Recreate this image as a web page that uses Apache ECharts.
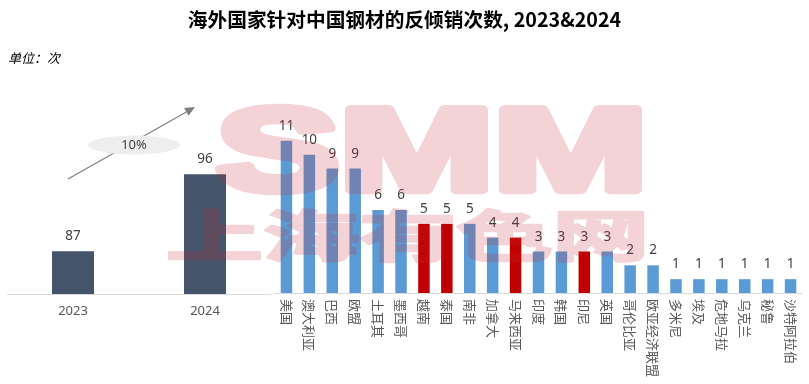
<!DOCTYPE html>
<html>
<head>
<meta charset="utf-8">
<script src="https://cdn.jsdelivr.net/npm/echarts@6/dist/echarts.min.js"></script>
<style>
html,body{margin:0;padding:0;background:#fff;}
#main{width:809px;height:384px;}
</style>
</head>
<body>
<div id="main"></div>
<script>
// ---- data ----
var years = ['2023', '2024'];
var totals = [87, 96];
var countries = ['美国','澳大利亚','巴西','欧盟','土耳其','墨西哥','越南','泰国','南非','加拿大','马来西亚','印度','韩国','印尼','英国','哥伦比亚','欧亚经济联盟','多米尼','埃及','危地马拉','乌克兰','秘鲁','沙特阿拉伯'];
var counts = [11,10,9,9,6,6,5,5,5,4,4,3,3,3,3,2,2,1,1,1,1,1,1];
var highlighted = ['越南','泰国','马来西亚','印尼'];
var growthLabel = '10%';

var chart = echarts.init(document.getElementById('main'), null, {renderer:'canvas'});
var cjk = '"Noto Sans CJK SC", "Noto Sans", sans-serif';
var num = '"Noto Sans", "Noto Sans CJK SC", sans-serif';

var countryData = countries.map(function(c, i){
  return {value: counts[i], itemStyle:{color: highlighted.indexOf(c) >= 0 ? '#c00000' : '#5b9bd5'}};
});

// arrow annotation geometry
var ax1 = 68, ay1 = 179, ax2 = 195, ay2 = 107;
var ang = Math.atan2(ay2 - ay1, ax2 - ax1);
var hl = 10, hw = 4.5;
var bx = ax2 - hl * Math.cos(ang), by = ay2 - hl * Math.sin(ang);
var head = [[ax2, ay2],[bx + hw*Math.sin(ang), by - hw*Math.cos(ang)],[bx - hw*Math.sin(ang), by + hw*Math.cos(ang)]];

// watermark drawn on an offscreen canvas, then composited with uniform alpha
function drawFitted(ctx, text, font, box, strokeW) {
  ctx.save();
  ctx.font = font;
  var m = ctx.measureText(text);
  var inkW = m.actualBoundingBoxLeft + m.actualBoundingBoxRight + strokeW;
  var inkH = m.actualBoundingBoxAscent + m.actualBoundingBoxDescent + strokeW;
  var sx = (box[2] - box[0]) / inkW, sy = (box[3] - box[1]) / inkH;
  ctx.translate(box[0], box[1]);
  ctx.scale(sx, sy);
  var x0 = m.actualBoundingBoxLeft + strokeW / 2;
  var y0 = m.actualBoundingBoxAscent + strokeW / 2;
  ctx.textBaseline = 'alphabetic';
  ctx.fillText(text, x0, y0);
  if (strokeW > 0) { ctx.lineWidth = strokeW; ctx.lineJoin = 'round'; ctx.strokeText(text, x0, y0); }
  ctx.restore();
}
var wmCanvas = document.createElement('canvas');
wmCanvas.width = 809; wmCanvas.height = 384;
(function(){
  var ctx = wmCanvas.getContext('2d');
  ctx.fillStyle = 'rgb(200,40,50)';
  ctx.strokeStyle = 'rgb(200,40,50)';
  drawFitted(ctx, 'SMM', 'bold 120px "Liberation Sans", Arial, sans-serif', [214, 103, 642, 195], 9);
  drawFitted(ctx, '上海有色网', 'bold 60px "Noto Sans CJK SC", sans-serif', [167, 207, 645, 263], 3);
})();

chart.setOption({
  animation:false,
  backgroundColor:'#ffffff',
  title:{
    text:'海外国家针对中国钢材的反倾销次数, 2023&2024',
    left:'center', top:5,
    textStyle:{fontSize:19.7, fontWeight:'bold', color:'#000', fontFamily:cjk}
  },
  grid:[
    {left:7, width:264, top:123, height:171},
    {left:275, width:527, top:127, height:166}
  ],
  xAxis:[
    {type:'category', gridIndex:0, data:years,
     axisLine:{lineStyle:{color:'#d9d9d9', width:1}}, axisTick:{show:false},
     axisLabel:{color:'#595959', fontSize:13, margin:11, fontFamily:num}},
    {type:'category', gridIndex:1, data:countries,
     axisLine:{lineStyle:{color:'#d9d9d9', width:1}}, axisTick:{show:false},
     axisLabel:{color:'#595959', fontSize:13, rotate:-90, margin:6, interval:0, fontFamily:cjk}}
  ],
  yAxis:[
    {type:'value', gridIndex:0, min:82, max:102, show:false, splitLine:{show:false}},
    {type:'value', gridIndex:1, min:0, max:12, show:false, splitLine:{show:false}}
  ],
  series:[
    {type:'bar', xAxisIndex:0, yAxisIndex:0, data:totals, barWidth:42,
     itemStyle:{color:'#44546a'},
     label:{show:true, position:'top', distance:8, color:'#404040', fontSize:13.5, fontFamily:num}},
    {type:'bar', xAxisIndex:1, yAxisIndex:1, data:countryData, barWidth:11.5,
     label:{show:true, position:'top', distance:8, color:'#404040', fontSize:13.5, fontFamily:num}}
  ],
  graphic:[
    {type:'text', left:8, top:52, style:{text:'单位：次', font:'italic 13px ' + cjk, fill:'#000'}},
    {type:'line', shape:{x1:ax1, y1:ay1, x2:bx, y2:by}, style:{stroke:'#7f7f7f', lineWidth:1.2}, z:10},
    {type:'polygon', shape:{points:head}, style:{fill:'#7f7f7f'}, z:10},
    {type:'ellipse', shape:{cx:134, cy:145, rx:46, ry:9.5}, style:{fill:'#eeeeee'}, z:11},
    {type:'text', x:134, y:145, style:{text:growthLabel, fontSize:13, fill:'#404040', textAlign:'center', textVerticalAlign:'middle', fontFamily:num}, z:12},
    {type:'image', x:0, y:0, silent:true, z:100, style:{image:wmCanvas, x:0, y:0, width:809, height:384, opacity:0.2}}
  ]
});
</script>
</body>
</html>
